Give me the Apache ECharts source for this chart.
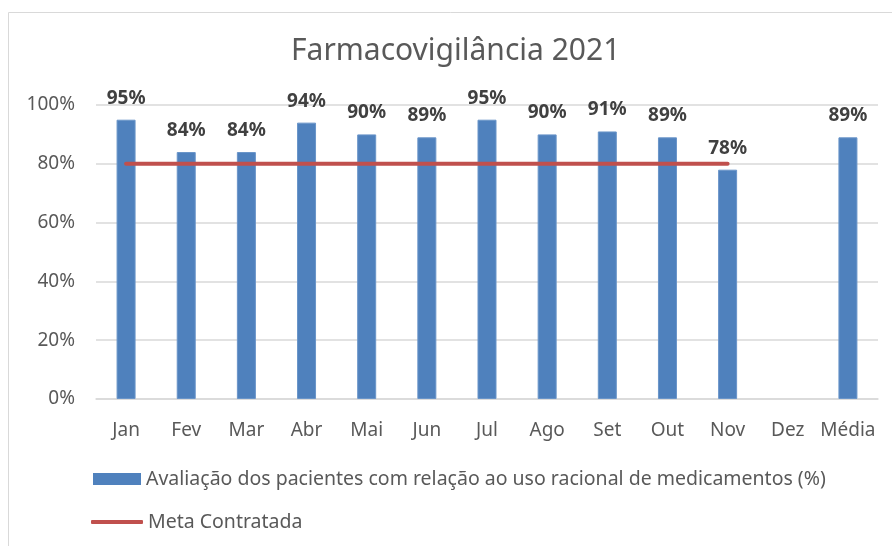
<!DOCTYPE html>
<html>
<head>
<meta charset="utf-8">
<script src="https://cdn.jsdelivr.net/npm/echarts@6/dist/echarts.min.js"></script>
<style>
  html, body { margin: 0; padding: 0; background: #fff; }
  #chart { width: 892px; height: 546px; }
</style>
</head>
<body>
<div id="chart"></div>
<script>
// dados do gráfico
const meses = ["Jan", "Fev", "Mar", "Abr", "Mai", "Jun", "Jul", "Ago", "Set", "Out", "Nov", "Dez", "Média"];
const avaliacao = [95, 84, 84, 94, 90, 89, 95, 90, 91, 89, 78, null, 89];
const meta = [80, 80, 80, 80, 80, 80, 80, 80, 80, 80, 80, null, null];
const ticksY = [0, 20, 40, 60, 80, 100];

const nomeBarra = "Avaliação dos pacientes com relação ao uso racional de medicamentos (%)";
const nomeLinha = "Meta Contratada";

const fonte = "Noto Sans";
const chart = echarts.init(document.getElementById("chart"));

chart.setOption({
  animation: false,
  textStyle: { fontFamily: fonte },
  title: {
    text: "Farmacovigilância 2021",
    left: 286,
    top: 31,
    textStyle: { fontSize: 30, fontWeight: "normal", color: "#595959", fontFamily: fonte }
  },
  graphic: [
    {
      // moldura do gráfico
      type: "rect",
      shape: { x: 8.5, y: 12.5, width: 900, height: 560 },
      style: { fill: "none", stroke: "#d9d9d9", lineWidth: 1 },
      silent: true
    }
  ],
  grid: { left: 96, right: 14, top: 105, bottom: 147 },
  legend: [
    {
      left: 88,
      top: 464,
      itemWidth: 48,
      itemHeight: 12,
      itemStyle: { borderWidth: 0 },
      data: [{ name: nomeBarra, icon: "rect" }],
      textStyle: { fontSize: 19.5, color: "#595959", fontFamily: fonte }
    },
    {
      left: 86,
      top: 507,
      itemWidth: 52,
      itemHeight: 4,
      data: [{ name: nomeLinha, icon: "roundRect" }],
      textStyle: { fontSize: 19.5, color: "#595959", fontFamily: fonte }
    }
  ],
  xAxis: {
    type: "category",
    data: meses,
    axisTick: { show: false },
    axisLine: { lineStyle: { color: "#d9d9d9", width: 1.5 } },
    axisLabel: { fontSize: 19, color: "#595959", margin: 22, interval: 0 }
  },
  yAxis: {
    type: "value",
    min: ticksY[0],
    max: ticksY[ticksY.length - 1],
    interval: 20,
    axisLine: { show: false },
    axisTick: { show: false },
    axisLabel: { fontSize: 19, color: "#595959", margin: 21, formatter: "{value}%" },
    splitLine: { lineStyle: { color: "#d9d9d9", width: 1.5 } }
  },
  series: [
    {
      name: nomeBarra,
      type: "bar",
      data: avaliacao,
      barWidth: 19,
      itemStyle: { color: "#4f81bd", borderColor: "#6a95c9", borderWidth: 1 },
      label: {
        show: true,
        position: "top",
        distance: 12,
        formatter: "{c}%",
        fontSize: 19,
        fontWeight: "bold",
        color: "#404040",
        fontFamily: fonte
      }
    },
    {
      name: nomeLinha,
      type: "line",
      data: meta,
      showSymbol: false,
      symbol: "none",
      itemStyle: { color: "#c0504d" },
      lineStyle: { color: "#c0504d", width: 4, cap: "round" }
    }
  ]
});
</script>
</body>
</html>
